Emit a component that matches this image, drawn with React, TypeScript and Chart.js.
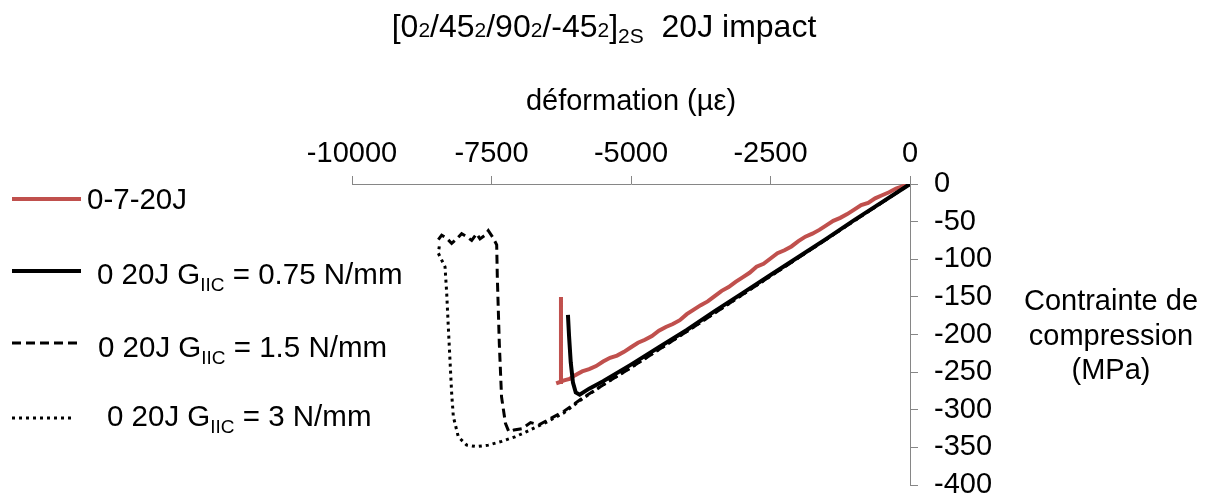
import React, { useEffect, useRef } from "react";
import { Chart, registerables } from "chart.js";

Chart.register(...registerables);

const FONT = "'Liberation Sans', Arial, Helvetica, sans-serif";

// ---- axes ----
const xTickValues = [-10000, -7500, -5000, -2500, 0];
const xTickLabels = ["-10000", "-7500", "-5000", "-2500", "0"];
const yTickValues = [0, -50, -100, -150, -200, -250, -300, -350, -400];
const yTickLabels = ["0", "-50", "-100", "-150", "-200", "-250", "-300", "-350", "-400"];
const xAxisTitle = "déformation (µε)";
const yAxisTitleLines = ["Contrainte de", "compression", "(MPa)"];

// ---- title ----
const titleParts = ["[0", "2", "/45", "2", "/90", "2", "/-45", "2", "]", "2S", "  20J impact"];
const titleIsSub = [false, true, false, true, false, true, false, true, false, true, false];

// ---- legend ----
const legendPrefix = ["0-7-20J", "0 20J G", "0 20J G", "0 20J G"];
const legendSub = ["", "IIC", "IIC", "IIC"];
const legendSuffix = ["", " = 0.75 N/mm", " = 1.5 N/mm", " = 3 N/mm"];

// ---- series: 0-7-20J (red) ----
const redStrain = [0, -125, -250, -375, -500, -625, -750, -875, -1000, -1125, -1250, -1375, -1500, -1625, -1750, -1875, -2000, -2125, -2250, -2375, -2500, -2625, -2750, -2875, -3000, -3125, -3250, -3375, -3500, -3625, -3750, -3875, -4000, -4125, -4250, -4375, -4500, -4625, -4750, -4875, -5000, -5125, -5250, -5375, -5500, -5625, -5750, -5875, -6000, -6100, -6200, -6340, -6260, -6255];
const redStress = [0, -3, -6, -11, -15, -19, -25, -28, -34, -40, -45, -49, -55, -61, -66, -70, -76, -83, -88, -92, -99, -106, -110, -118, -124, -130, -137, -142, -149, -156, -161, -167, -173, -181, -186, -190, -195, -202, -207, -211, -217, -223, -228, -231, -236, -242, -246, -249, -254, -259, -261, -265, -263, -150];

// ---- series: GIIC = 0.75 N/mm (solid black) ----
const solidStrain = [0, -500, -1000, -1500, -2000, -2500, -3000, -3500, -4000, -4500, -5000, -5500, -5750, -5920, -5990, -6040, -6080, -6110, -6130];
const solidStress = [0, -24, -48, -73, -97, -121, -145, -169, -194, -217, -240, -262, -272, -280, -277, -264, -237, -202, -174];

// ---- series: GIIC = 1.5 N/mm (dashed) ----
const dashStrain = [0, -1000, -2000, -3000, -4000, -4500, -5000, -5500, -5900, -6200, -6450, -6650, -6800, -6950, -7100, -7190, -7250, -7320, -7360, -7396, -7407, -7467, -7557, -7616, -7706, -7766, -7855, -7945, -8035, -8124, -8214, -8303, -8393, -8453];
const dashStress = [0, -49, -98, -147, -196, -220, -244, -267, -286, -302, -312, -320, -317, -325, -327, -329, -318, -283, -212, -123, -81, -72, -62, -68, -73, -66, -75, -70, -66, -73, -79, -72, -68, -74];

// ---- series: GIIC = 3 N/mm (dotted) ----
const dotStrain = [0, -1000, -2000, -3000, -4000, -4500, -5000, -5500, -5900, -6200, -6500, -6869, -7079, -7317, -7557, -7766, -7945, -8095, -8184, -8214, -8244, -8274, -8303, -8333, -8453, -8430];
const dotStress = [0, -49, -98, -147, -196, -220, -244, -267, -287, -304, -316, -329, -336, -342, -347, -349, -347, -336, -309, -278, -234, -190, -145, -110, -92, -80];

const toPoints = (xs: number[], ys: number[]) => xs.map((x, i) => ({ x, y: ys[i] }));

const overlayPlugin = {
  id: "overlay",
  afterDraw(chart: any) {
    const ctx: CanvasRenderingContext2D = chart.ctx;
    ctx.save();
    ctx.fillStyle = "#000";
    ctx.textBaseline = "alphabetic";
    ctx.textAlign = "left";

    // Title with subscripts
    const mainF = `32px ${FONT}`;
    const subF = `21px ${FONT}`;
    let total = 0;
    titleParts.forEach((t, i) => {
      ctx.font = titleIsSub[i] ? subF : mainF;
      total += ctx.measureText(t).width;
    });
    let tx = 604 - total / 2;
    titleParts.forEach((t, i) => {
      ctx.font = titleIsSub[i] ? subF : mainF;
      const dy = titleIsSub[i] && t === "2S" ? 6 : 0;
      ctx.fillText(t, tx, 37 + dy);
      tx += ctx.measureText(t).width;
    });

    // Legend
    const ds = chart.data.datasets;
    const lineY = [199, 271, 343, 418];
    const lineX0 = [12, 12, 12, 12];
    const lineX1 = [81, 81, 81, 75];
    const textX = [87, 97, 98, 107];
    const textBase = [209, 283.5, 356.5, 426];
    for (let i = 0; i < 4; i++) {
      const d = ds[i];
      ctx.save();
      ctx.strokeStyle = d.borderColor;
      ctx.lineWidth = d.borderWidth;
      ctx.setLineDash(d.borderDash || []);
      ctx.lineCap = d.borderCapStyle || "butt";
      ctx.beginPath();
      ctx.moveTo(lineX0[i], lineY[i]);
      ctx.lineTo(lineX1[i], lineY[i]);
      ctx.stroke();
      ctx.restore();
      let x = textX[i];
      ctx.font = `29.5px ${FONT}`;
      ctx.fillText(legendPrefix[i], x, textBase[i]);
      x += ctx.measureText(legendPrefix[i]).width;
      if (legendSub[i]) {
        ctx.font = `19px ${FONT}`;
        ctx.fillText(legendSub[i], x, textBase[i] + 7);
        x += ctx.measureText(legendSub[i]).width;
      }
      if (legendSuffix[i]) {
        ctx.font = `29.5px ${FONT}`;
        ctx.fillText(legendSuffix[i], x, textBase[i]);
      }
    }

    // Y axis title (horizontal, right side)
    ctx.font = `29px ${FONT}`;
    ctx.textAlign = "center";
    const yb = [310, 344.5, 379];
    yAxisTitleLines.forEach((t, i) => ctx.fillText(t, 1111, yb[i]));
    ctx.restore();
  },
};

export default function App() {
  const ref = useRef<HTMLCanvasElement | null>(null);
  useEffect(() => {
    if (!ref.current) return;
    const axisColor = "#868686";
    const chart = new Chart(ref.current, {
      type: "scatter",
      data: {
        datasets: [
          {
            label: "0-7-20J",
            data: toPoints(redStrain, redStress),
            borderColor: "#C0504D",
            backgroundColor: "#C0504D",
            borderWidth: 4,
            showLine: true,
            pointRadius: 0,
            order: 4,
          },
          {
            label: "0 20J GIIC = 0.75 N/mm",
            data: toPoints(solidStrain, solidStress),
            borderColor: "#000000",
            backgroundColor: "#000000",
            borderWidth: 4,
            showLine: true,
            pointRadius: 0,
            order: 3,
          },
          {
            label: "0 20J GIIC = 1.5 N/mm",
            data: toPoints(dashStrain, dashStress),
            borderColor: "#000000",
            backgroundColor: "#000000",
            borderWidth: 3,
            borderDash: [9, 5],
            showLine: true,
            pointRadius: 0,
            order: 2,
          },
          {
            label: "0 20J GIIC = 3 N/mm",
            data: toPoints(dotStrain, dotStress),
            borderColor: "#000000",
            backgroundColor: "#000000",
            borderWidth: 3,
            borderDash: [3, 4],
            showLine: true,
            pointRadius: 0,
            order: 1,
          },
        ] as any,
      },
      options: {
        animation: false,
        responsive: false,
        devicePixelRatio: 1,
        layout: { padding: { left: 352, top: 84, right: 204, bottom: 13 } },
        plugins: {
          legend: { display: false },
          title: { display: false },
          tooltip: { enabled: false },
        },
        scales: {
          x: {
            type: "linear",
            position: "top",
            min: -10000,
            max: 0,
            afterBuildTicks: (s: any) => {
              s.ticks = xTickValues.map((v) => ({ value: v }));
            },
            ticks: {
              autoSkip: false,
              maxRotation: 0,
              padding: 5,
              color: "#000",
              font: { family: FONT, size: 29 },
              callback: (v: any) => xTickLabels[xTickValues.indexOf(Number(v))] ?? "",
            },
            grid: { drawOnChartArea: false, drawTicks: true, tickLength: 8, color: axisColor, lineWidth: 1 },
            border: { display: true, color: axisColor, width: 1 },
            title: {
              display: true,
              text: xAxisTitle,
              color: "#000",
              font: { family: FONT, size: 29 },
              padding: { top: 1, bottom: 0 },
            },
            afterFit: (s: any) => {
              s.height = 100;
              s.paddingLeft = 0;
              s.paddingRight = 0;
            },
          } as any,
          y: {
            type: "linear",
            position: "right",
            min: -400,
            max: 0,
            afterBuildTicks: (s: any) => {
              s.ticks = yTickValues.map((v) => ({ value: v }));
            },
            ticks: {
              autoSkip: false,
              padding: 16,
              color: "#000",
              font: { family: FONT, size: 29 },
              callback: (v: any) => yTickLabels[yTickValues.indexOf(Number(v))] ?? "",
            },
            grid: { drawOnChartArea: false, drawTicks: true, tickLength: 8, color: axisColor, lineWidth: 1 },
            border: { display: true, color: axisColor, width: 1 },
            afterFit: (s: any) => {
              s.width = 100;
              s.paddingTop = 0;
              s.paddingBottom = 0;
            },
          } as any,
        },
      },
      plugins: [overlayPlugin],
    });
    return () => chart.destroy();
  }, []);

  return (
    <div style={{ position: "absolute", left: 0, top: 0, width: 1214, height: 498, background: "#fff" }}>
      <canvas ref={ref} width={1214} height={498} style={{ display: "block" }} />
    </div>
  );
}
